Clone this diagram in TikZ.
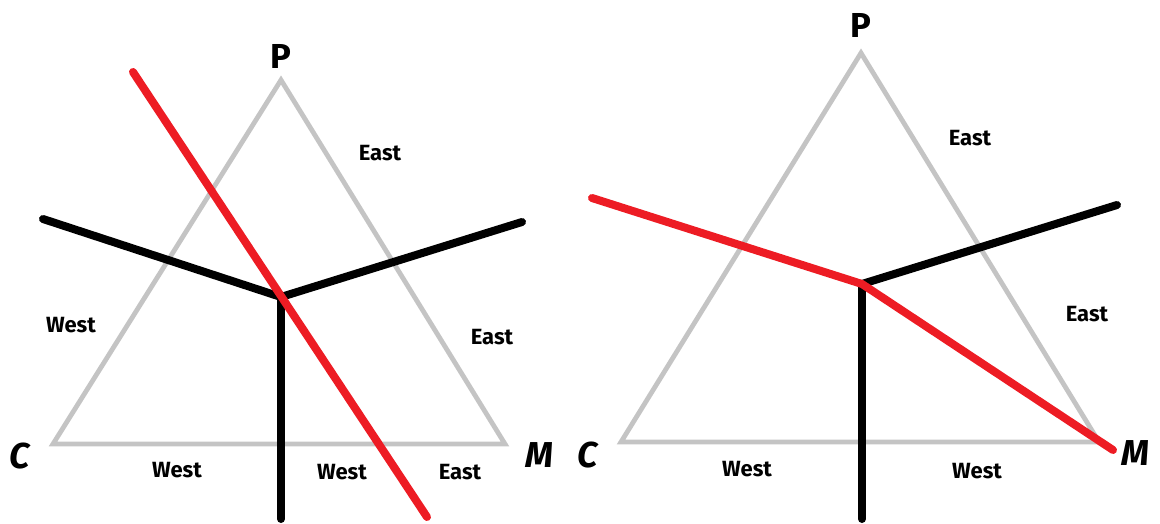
\documentclass[tikz,border=0pt]{standalone}
\usepackage{fontspec}
\setmainfont{Fira Sans}
\definecolor{tri}{RGB}{196,196,196}
\definecolor{cut}{RGB}{237,28,36}
\begin{document}
\begin{tikzpicture}[x=0.75pt,y=-0.75pt,
  triline/.style={draw=tri,line width=3.6pt,line join=miter},
  blk/.style={draw=black,line width=6pt,line cap=round,line join=round},
  redl/.style={draw=cut,line width=6pt,line cap=round,line join=round},
  region/.style={font=\bfseries\fontsize{16.5}{18}\selectfont,inner sep=0pt},
  corner/.style={font=\bfseries\itshape\fontsize{27}{30}\selectfont,inner sep=0pt},
  apex/.style={font=\bfseries\fontsize{26}{30}\selectfont,inner sep=0pt}]
\useasboundingbox (0,0) rectangle (1160,524);
% ---------- left panel ----------
\coordinate (LP) at (281,80);
\coordinate (LC) at (53,444);
\coordinate (LM) at (505,444);
\draw[triline] (LP) -- (LC) -- (LM) -- cycle;
\coordinate (LJ) at (281,297);
\coordinate (LW) at (43,219);
\coordinate (LE) at (522,222);
\coordinate (LS) at (281,519);
\coordinate (LR1) at (133,72);
\coordinate (LR2) at (427,517);
\draw[blk] (LW) -- (LJ) -- (LE);
\draw[blk] (LJ) -- (LS);
\draw[redl] (LR1) -- (LR2);
\node[apex] (lpl) at (281,56) {P};
\node[corner] (lcl) at (20,456) {C};
\node[corner] (lml) at (539,455) {M};
\node[region] (l1) at (380,153) {East};
\node[region] (l2) at (71,325) {West};
\node[region] (l3) at (492,337) {East};
\node[region] (l4) at (177,470) {West};
\node[region] (l5) at (342,472) {West};
\node[region] (l6) at (460,472) {East};
% ---------- right panel ----------
\coordinate (RP) at (861,53);
\coordinate (RC) at (621,442);
\coordinate (RM) at (1099,442);
\draw[triline] (RP) -- (RC) -- (RM) -- cycle;
\coordinate (RJ) at (862,284);
\coordinate (RE) at (1117,205);
\coordinate (RS) at (862,519);
\coordinate (RR1) at (592,198);
\coordinate (RR2) at (1113,450);
\draw[blk] (RJ) -- (RE);
\draw[blk] (RJ) -- (RS);
\draw[redl] (RR1) -- (RJ) -- (RR2);
\node[apex] (rpl) at (861,25) {P};
\node[corner] (rcl) at (588,455) {C};
\node[corner] (rml) at (1135,453) {M};
\node[region] (r1) at (970,138) {East};
\node[region] (r2) at (1087,314) {East};
\node[region] (r3) at (747,469) {West};
\node[region] (r4) at (977,471) {West};
\end{tikzpicture}
\end{document}
